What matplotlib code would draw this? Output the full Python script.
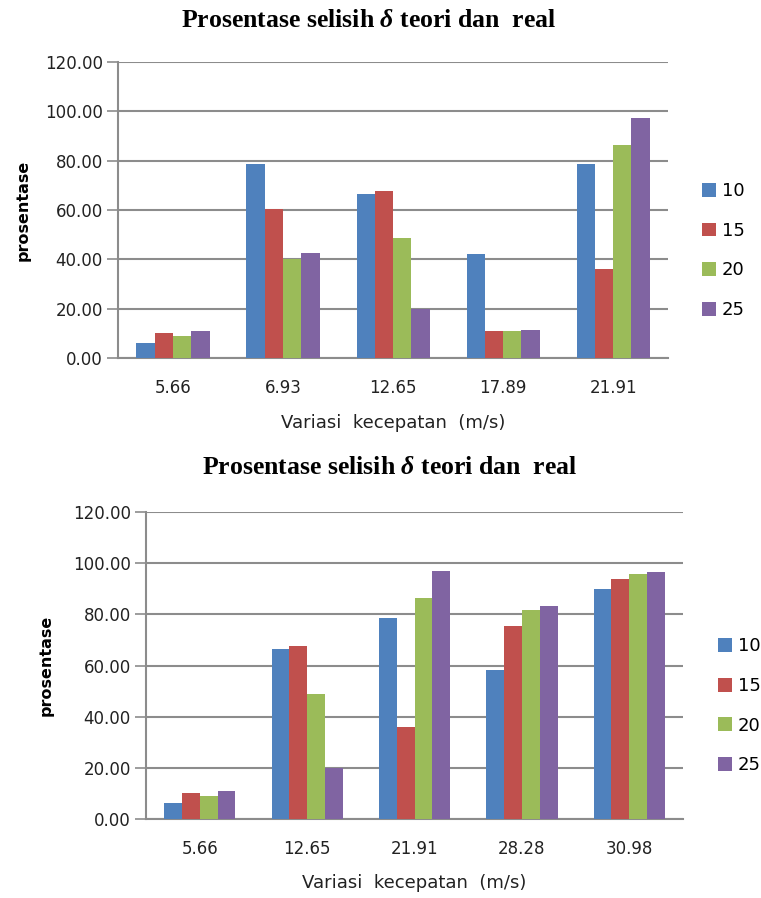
import numpy as np
import matplotlib.pyplot as plt
from matplotlib.patches import Patch

# Data
series = ['10', '15', '20', '25']
colors = ['#4F81BD', '#C0504D', '#9BBB59', '#8064A2']

cat_top = ['5.66', '6.93', '12.65', '17.89', '21.91']
top_10 = [6.1, 78.6, 66.6, 42.1, 78.6]
top_15 = [10.1, 60.5, 67.9, 10.8, 36.1]
top_20 = [8.8, 40.3, 48.6, 10.8, 86.5]
top_25 = [10.8, 42.6, 19.8, 11.5, 97.3]

cat_bot = ['5.66', '12.65', '21.91', '28.28', '30.98']
bot_10 = [6.2, 66.6, 78.5, 58.2, 89.9]
bot_15 = [10.2, 67.7, 36.1, 75.3, 93.9]
bot_20 = [8.9, 48.7, 86.5, 81.7, 95.8]
bot_25 = [11.0, 20.0, 97.0, 83.2, 96.4]

title = 'Prosentase selisih $\\delta$ teori dan  real'
yticks = [0, 20, 40, 60, 80, 100, 120]

plt.rcParams['font.family'] = ['DejaVu Sans']
plt.rcParams['mathtext.fontset'] = 'custom'
plt.rcParams['mathtext.it'] = 'Liberation Serif:italic:bold'
plt.rcParams['mathtext.rm'] = 'Liberation Serif:bold'

fig = plt.figure(figsize=(7.61, 8.98), dpi=100)


def draw(rect, cats, data, leg_pos, title_pos, ypad):
    ax = fig.add_axes(rect)
    x = np.arange(len(cats))
    w = 0.166
    for i, (vals, c) in enumerate(zip(data, colors)):
        ax.bar(x + (i - 1.5) * w, vals, width=w, color=c, zorder=3)
    ax.set_xlim(-0.5, len(cats) - 0.5)
    ax.set_ylim(0, 120)
    ax.set_yticks(yticks)
    ax.set_yticklabels(['%.2f' % v for v in yticks], fontsize=12, color='#222222')
    ax.set_xticks(x)
    ax.set_xticklabels(cats, fontsize=12, color='#222222')
    ax.tick_params(axis='x', length=0, pad=15)
    ax.tick_params(axis='y', length=8, width=1.2, color='#8c8c8c', pad=3)
    ax.yaxis.grid(True, color='#8c8c8c', linewidth=1.5, zorder=0)
    for s in ['top', 'right']:
        ax.spines[s].set_visible(False)
    for s in ['left', 'bottom']:
        ax.spines[s].set_color('#8c8c8c')
        ax.spines[s].set_linewidth(1.5)
    ax.set_xlabel('Variasi  kecepatan  (m/s)', fontsize=13, color='#222222', labelpad=12)
    ax.set_ylabel('prosentase', fontsize=11.5, fontweight='bold', labelpad=ypad)
    fig.text(title_pos[0], title_pos[1], title, fontsize=18.5, fontweight='bold',
             family='Liberation Serif', ha='center', va='center')
    handles = [Patch(facecolor=c) for c in colors]
    fig.legend(handles, series, loc='center left', bbox_to_anchor=leg_pos,
               frameon=False, fontsize=13, handlelength=0.8, handleheight=0.8,
               handletextpad=0.3, labelspacing=1.2)
    return ax


draw([0.155, 0.6013, 0.723, 0.3297], cat_top, [top_10, top_15, top_20, top_25],
     (0.901, 0.721), (0.485, 0.977), 10)
draw([0.192, 0.088, 0.7055, 0.3418], cat_bot, [bot_10, bot_15, bot_20, bot_25],
     (0.922, 0.214), (0.5125, 0.479), 14)

fig.savefig('out.png', dpi=100)
